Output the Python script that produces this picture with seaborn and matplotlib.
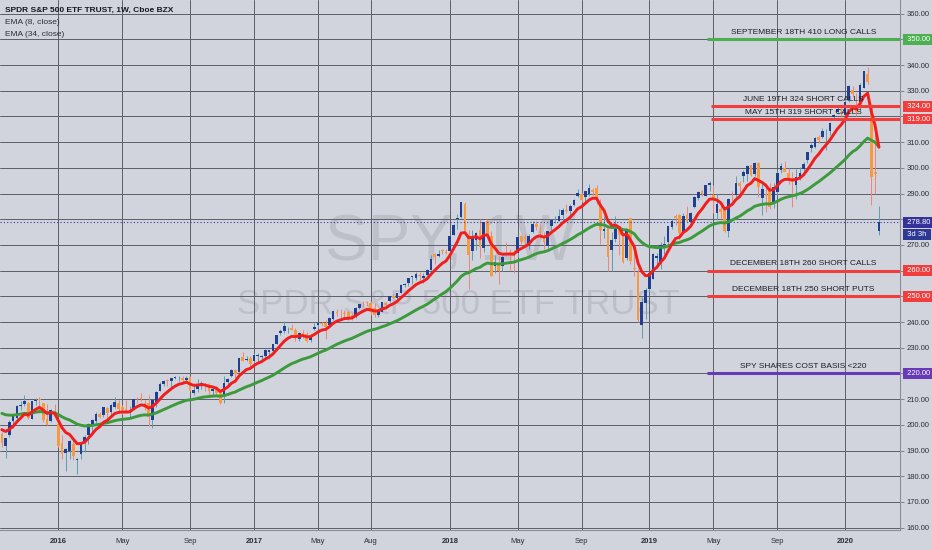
import numpy as np
import pandas as pd
import matplotlib
matplotlib.use("Agg")
import matplotlib.pyplot as plt
import matplotlib.dates as mdates
import matplotlib.transforms as mtrans
import seaborn as sns

# ---------------- data (weekly SPY, first bar = week of 2015-09-21) ----------------
first_week = "2015-09-21"

opens = [
    # 2015
    196.6, 191.8, 196.0, 201.4, 202.5, 207.3, 208.3, 208.7, 202.3, 209.4, 209.8, 208.7, 202.1, 201.4, 204.9,
    # 2016
    200.5, 193.0, 189.0, 190.0, 192.5, 186.4, 188.8, 193.9, 196.0, 199.4, 201.4, 204.1, 204.0, 206.5, 205.2, 207.0, 208.7,
    206.9, 206.2, 204.9, 205.9, 210.6, 210.4, 208.5, 208.5, 202.0, 209.0, 213.2, 216.0, 217.2, 217.2, 218.3, 218.5, 218.2, 217.4,
    218.7, 212.4, 214.1, 215.0, 216.0, 215.8, 213.0, 214.7, 212.9, 211.5, 216.6, 218.9, 221.4, 220.7, 226.4, 225.3, 226.0,
    # 2017
    225.0, 226.9, 226.3, 226.7, 228.2, 228.9, 231.6, 235.9, 236.6, 237.5, 237.6, 237.0, 233.3, 235.8, 235.4, 233.1, 237.2,
    238.7, 239.8, 239.5, 238.9, 241.3, 243.9, 242.9, 243.6, 243.9, 242.9, 241.9, 245.6, 247.0, 247.5,
    247.5, 245.6, 242.6, 244.1, 247.3, 248.0, 250.1, 249.3, 251.5, 254.6, 255.2, 257.5, 257.2, 258.3, 257.3, 258.3, 260.4,
    266.3, 265.6, 268.1, 267.1,
    # 2018
    267.8, 274.0, 280.1, 281.0, 285.9, 273.5, 267.5, 272.0, 275.9, 268.7, 279.2, 273.4, 262.0, 262.6, 262.0, 267.0, 267.3, 267.3,
    266.9, 273.4, 273.0, 269.5, 275.0, 278.3, 275.5, 273.4, 269.5, 277.3, 279.6, 279.5, 281.5, 283.6, 283.4, 285.5, 288.9,
    289.8, 288.7, 290.0, 291.3, 292.1, 286.0, 275.6, 277.0, 268.0, 272.4, 277.2, 273.0, 265.0, 280.3, 261.0, 259.4, 239.0, 247.6,
    # 2019
    252.7, 256.8, 264.8, 263.4, 270.1, 271.2, 277.0, 281.2, 281.6, 275.0, 281.5, 278.9, 284.7, 288.1, 291.0, 289.2, 293.5,
    289.3, 282.4, 284.1, 284.0, 275.3, 289.4, 289.5, 294.2, 296.7, 297.6, 301.1, 297.6, 301.9, 288.1, 289.9, 292.2, 286.1,
    290.6, 299.0, 300.0, 298.0, 295.9, 293.3, 295.9, 299.4, 302.9, 307.9, 308.0, 311.9, 312.0, 314.6, 314.4, 319.6, 321.6, 322.9,
    # 2020
    320.5, 326.4, 330.1, 323.0, 323.4, 331.2, 336.5, 323.1, 298.2, 275.6,
]

highs = [
    197.3, 195.0, 201.9, 203.3, 207.8, 209.4, 211.7, 208.9, 209.4, 210.4, 211.0, 208.7, 208.3, 206.0, 208.0,
    201.9, 195.9, 191.0, 194.0, 194.6, 187.0, 193.0, 196.0, 200.6, 202.2, 204.9, 204.9, 207.0, 206.9, 208.2, 210.9, 209.7,
    207.9, 209.5, 207.2, 210.2, 211.0, 212.5, 209.5, 211.8, 209.6, 213.0, 216.5, 217.4, 217.9, 218.2, 219.1, 219.2, 219.0, 218.9,
    219.2, 216.2, 218.0, 217.2, 216.4, 216.2, 214.4, 215.1, 213.2, 219.1, 218.3, 221.6, 221.8, 226.0, 228.3, 226.8, 226.7,
    227.8, 227.8, 227.1, 229.7, 229.1, 231.6, 235.1, 237.3, 240.3, 237.9, 239.4, 237.6, 236.0, 237.0, 236.0, 235.2, 239.5,
    239.8, 240.2, 240.7, 241.8, 244.3, 245.0, 245.0, 244.7, 244.4, 243.4, 245.7, 247.2, 248.0, 248.3,
    248.0, 247.3, 245.2, 247.9, 247.7, 250.2, 250.8, 251.3, 254.7, 255.1, 257.2, 257.9, 259.3, 259.3, 259.0, 260.5, 266.0,
    266.8, 268.0, 268.6, 268.6,
    274.0, 278.0, 282.0, 286.7, 286.7, 275.9, 275.7, 275.0, 280.0, 279.0, 280.0, 275.6, 266.0, 265.6, 266.0, 271.3, 268.6, 268.0,
    273.5, 273.9, 274.2, 274.2, 279.5, 279.5, 278.0, 275.0, 275.6, 280.0, 281.2, 284.0, 284.4, 286.0, 286.0, 287.7, 291.7,
    290.2, 290.9, 293.9, 292.2, 293.2, 287.9, 281.2, 277.4, 274.9, 281.3, 277.5, 273.4, 276.0, 280.4, 267.4, 260.7, 249.7, 253.1,
    259.2, 267.0, 266.7, 271.2, 273.4, 277.5, 280.2, 281.9, 281.9, 282.4, 285.2, 283.0, 289.2, 290.8, 291.4, 293.5, 295.0,
    293.2, 289.9, 286.5, 284.9, 288.1, 290.8, 297.0, 294.9, 299.0, 301.1, 301.2, 302.2, 302.2, 293.6, 294.1, 294.0, 294.1,
    298.8, 302.0, 302.6, 299.8, 298.5, 299.4, 300.2, 302.3, 306.2, 309.7, 312.0, 312.7, 315.5, 315.3, 317.9, 321.0, 323.8, 323.6,
    327.5, 332.1, 332.0, 329.0, 333.0, 337.7, 339.1, 324.0, 313.8, 285.3,
]

lows = [
    191.4, 187.0, 195.1, 198.6, 201.6, 205.6, 207.5, 202.4, 202.2, 207.7, 204.7, 201.3, 199.8, 201.0, 203.9,
    191.3, 186.9, 181.9, 186.9, 186.3, 181.0, 186.7, 189.5, 192.5, 196.7, 200.6, 202.5, 202.9, 202.9, 203.9, 206.6, 205.0,
    204.1, 204.6, 202.8, 205.8, 208.7, 209.4, 205.7, 199.5, 198.7, 207.1, 213.0, 215.0, 215.3, 214.3, 217.7, 217.0, 216.6, 216.9,
    213.0, 211.7, 212.9, 213.8, 213.1, 210.8, 211.8, 211.2, 208.1, 208.4, 215.4, 218.7, 218.3, 220.4, 224.7, 224.9, 222.7,
    223.9, 224.9, 224.9, 225.3, 225.8, 228.3, 231.5, 235.1, 235.8, 235.8, 236.8, 232.5, 232.6, 233.9, 232.4, 232.3, 236.9,
    237.7, 238.3, 233.5, 238.8, 240.8, 242.3, 241.6, 241.8, 240.8, 240.7, 241.6, 245.0, 245.8, 246.3,
    242.9, 242.1, 241.8, 243.8, 244.9, 247.9, 249.2, 248.1, 251.4, 253.8, 254.2, 254.7, 256.3, 256.5, 255.2, 258.1, 260.3,
    262.7, 265.4, 266.4, 266.6,
    267.4, 273.7, 276.2, 280.3, 275.3, 252.9, 264.2, 268.0, 264.8, 267.2, 273.9, 257.8, 259.0, 254.7, 259.8, 265.6, 260.2, 259.1,
    265.3, 270.5, 270.1, 268.5, 274.5, 276.0, 272.6, 268.5, 269.0, 276.0, 278.4, 279.2, 279.2, 282.5, 280.2, 285.0, 288.6,
    286.7, 286.7, 288.9, 289.6, 285.8, 270.4, 272.8, 259.9, 259.9, 271.0, 266.2, 263.0, 264.2, 262.6, 258.0, 239.9, 233.8, 241.1,
    251.7, 256.7, 261.2, 260.7, 266.5, 270.1, 276.1, 277.8, 272.4, 274.6, 279.1, 277.3, 284.5, 287.6, 288.9, 289.0, 291.0,
    282.5, 279.9, 280.6, 275.2, 273.0, 287.1, 288.6, 290.5, 294.3, 295.0, 296.7, 297.0, 288.7, 281.7, 283.0, 283.8, 284.3,
    289.3, 298.0, 298.6, 293.9, 284.8, 288.0, 295.2, 298.0, 301.9, 306.3, 307.7, 309.6, 311.8, 307.1, 312.8, 318.9, 320.8, 320.0,
    320.4, 325.5, 327.4, 320.3, 322.0, 331.0, 332.6, 285.5, 290.0, 274.0,
]

closes = [
    192.9, 195.0, 201.3, 203.3, 207.5, 207.9, 209.3, 202.5, 209.3, 209.6, 209.6, 201.9, 200.0, 205.7, 203.9,
    191.9, 188.8, 190.5, 193.7, 188.0, 186.6, 192.9, 195.1, 200.4, 202.0, 204.4, 203.1, 206.9, 204.5, 207.8, 209.0, 206.3,
    205.7, 204.8, 205.5, 210.2, 210.3, 210.1, 206.5, 203.2, 209.5, 212.6, 215.8, 217.2, 217.1, 218.2, 218.5, 218.54, 217.3, 218.4,
    213.3, 213.4, 216.0, 216.3, 215.0, 213.1, 214.0, 212.5, 208.6, 216.4, 218.0, 221.5, 219.7, 226.0, 225.0, 225.7, 223.5,
    227.2, 227.1, 226.7, 229.0, 229.3, 231.5, 235.1, 236.7, 238.4, 237.7, 237.0, 233.9, 235.7, 235.2, 232.5, 234.6, 238.1,
    239.7, 239.4, 238.0, 241.7, 244.2, 243.4, 242.6, 243.1, 241.8, 242.1, 245.6, 246.9, 246.9, 247.4,
    244.1, 242.7, 244.6, 247.8, 246.6, 250.1, 249.4, 251.2, 254.4, 255.0, 257.1, 257.7, 258.7, 258.1, 257.9, 260.4, 264.5,
    265.5, 266.5, 267.5, 266.9,
    273.4, 277.9, 280.4, 286.6, 275.5, 266.0, 273.1, 274.7, 269.1, 278.9, 274.2, 258.1, 263.2, 259.7, 265.2, 266.6, 266.6, 266.0,
    272.9, 271.3, 272.2, 273.6, 278.2, 277.1, 274.7, 271.3, 275.4, 279.6, 279.7, 281.4, 283.6, 283.2, 285.1, 287.5, 290.3,
    287.6, 290.9, 292.0, 290.7, 287.8, 276.0, 276.3, 265.3, 271.9, 277.8, 273.7, 263.3, 275.7, 263.6, 260.5, 240.7, 247.8, 252.4,
    259.0, 266.5, 265.8, 270.1, 270.5, 277.4, 279.5, 280.4, 274.5, 281.3, 279.3, 282.5, 288.6, 290.7, 290.0, 293.4, 294.0,
    288.1, 285.8, 282.8, 275.3, 287.7, 289.3, 294.0, 293.0, 298.5, 300.7, 297.2, 302.0, 292.6, 291.6, 288.9, 284.9, 292.5,
    298.1, 300.8, 298.3, 295.4, 294.4, 296.3, 298.0, 301.6, 306.1, 309.0, 311.8, 311.0, 314.3, 314.9, 317.3, 320.7, 322.9, 322.4,
    325.7, 332.0, 328.8, 321.7, 332.2, 337.6, 333.5, 296.3, 297.5, 278.8,
]

# prior weekly closes (Jan-Sep 2015), only used to seed the EMAs
ema_warmup_closes = [
    204.2, 201.6, 206.1, 199.5, 205.5, 209.8, 211.0, 210.7, 207.5, 205.8, 210.4, 205.7, 206.4, 210.0, 207.0, 211.0,
    210.8, 211.7, 212.4, 212.9, 211.1, 209.8, 209.1, 210.8, 210.5, 206.5, 204.9, 212.5, 207.5, 210.5, 207.9, 209.4,
    197.6, 199.3, 192.6, 196.0, 195.5,
]

ema_fast_span = 8
ema_slow_span = 34

level_prices = [350.0, 324.0, 319.0, 260.0, 250.0, 220.0]
level_texts = ["SEPTEMBER 18TH 410 LONG CALLS", "JUNE 19TH 324 SHORT CALLS", "MAY 15TH 319 SHORT CALLS",
               "DECEMBER 18TH 260 SHORT CALLS", "DECEMBER 18TH 250 SHORT PUTS", "SPY SHARES COST BASIS <220"]
level_colors = ["#4caf50", "#f23d3d", "#f23d3d", "#f23d3d", "#f23d3d", "#673ab7"]
level_start_weeks = [172.3, 173.4, 173.4, 172.3, 172.3, 172.3]   # weeks after 2016-01-04

last_price = 278.80
countdown = "3d 3h"

x_tick_dates = ["2016-01-04", "2016-05-02", "2016-09-05", "2017-01-02", "2017-05-01", "2017-08-07",
                "2018-01-01", "2018-05-07", "2018-09-03", "2019-01-07", "2019-05-06", "2019-09-02", "2020-01-06"]
x_tick_labels = ["2016", "May", "Sep", "2017", "May", "Aug", "2018", "May", "Sep", "2019", "May", "Sep", "2020"]
y_ticks = list(range(160, 361, 10))

# ---------------- style ----------------
sns.set_theme(style="white")
plt.rcParams["font.family"] = ["Liberation Sans", "DejaVu Sans"]

BG = "#d1d4dc"
GRID = "#5c5f68"
UP_BODY, UP_WICK = "#1f3f93", "#5a9fb0"
DN_BODY, DN_WICK = "#f79a3e", "#f08474"

W, H = 932, 550
fig = plt.figure(figsize=(W / 100, H / 100), dpi=100, facecolor=BG)
ax = fig.add_axes([0, 20 / H, 900 / W, 530 / H])
ax.set_facecolor(BG)

weeks = pd.date_range(first_week, periods=len(closes), freq="7D")
x = mdates.date2num(weeks)
o, h, l, c = (np.array(v, dtype=float) for v in (opens, highs, lows, closes))
up = c >= o

base = mdates.date2num(pd.Timestamp("2016-01-04"))
def wk(n):
    return base + n * 7.0

# EMAs
full = pd.Series(ema_warmup_closes + closes, dtype=float)
n0 = len(ema_warmup_closes)
ema_fast = full.ewm(span=ema_fast_span, adjust=False).mean().iloc[n0:].to_numpy()
ema_slow = full.ewm(span=ema_slow_span, adjust=False).mean().iloc[n0:].to_numpy()

# watermark
wm_family = ["Liberation Sans Narrow", "Liberation Sans", "DejaVu Sans"]
ax.text(0.5, 0.541, "SPY, 1W", transform=ax.transAxes, ha="center", va="center",
        fontsize=46, color="#8f929b", alpha=0.3, zorder=0.5, family=wm_family)
ax.text(0.509, 0.425, "SPDR S&P 500 ETF TRUST", transform=ax.transAxes, ha="center", va="center",
        fontsize=25, color="#8f929b", alpha=0.3, zorder=0.5, family=wm_family)

# candles
ax.vlines(x, l, h, colors=np.where(up, UP_WICK, DN_WICK), lw=0.7, zorder=2)
ax.bar(x, np.maximum(np.abs(c - o), 0.3), bottom=np.minimum(o, c), width=5.0,
       color=np.where(up, UP_BODY, DN_BODY), lw=0, zorder=2.1)

# EMAs via seaborn
sns.lineplot(x=x, y=ema_slow, color="#3c9a3c", lw=2.1, ax=ax, zorder=4)
sns.lineplot(x=x, y=ema_fast, color="#f21d1d", lw=2.1, ax=ax, zorder=4.1)

# axes ranges
xmin = wk(-15.49)
xmax = wk(223.6)
ax.set_xlim(xmin, xmax)
ax.set_ylim(159.1, 365.3)

# last price dotted line
ax.axhline(last_price, color="#3535a8", lw=0.8, ls=(0, (1, 2)), zorder=3)

# option levels
for p, t, col, s in zip(level_prices, level_texts, level_colors, level_start_weeks):
    ax.hlines(p, wk(s), xmax, color=col, lw=2.2, zorder=5)
    ax.text(wk(198.0), p + 2.7, t, ha="center", va="center", fontsize=6, color="#1b1e28", zorder=6)

# price boxes on the scale (label, price, colour)
countdown_y = last_price - 4.8
boxes = [(f"{p:.2f}", p, col) for p, col in zip(level_prices, level_colors)]
boxes += [(f"{last_price:.2f}", last_price, "#35309a"), (countdown, countdown_y, "#2d3894")]

# grid + ticks (labels hidden where a coloured price box covers them, as on the reference)
def hidden(v):
    return any(abs(v - b[1]) < 3.5 for b in boxes)

ax.set_xticks(mdates.date2num(pd.to_datetime(x_tick_dates)))
ax.set_xticklabels(x_tick_labels)
ax.set_yticks(y_ticks)
ax.set_yticklabels(["" if hidden(v) else f"{v:.2f}" for v in y_ticks])
ax.yaxis.tick_right()
ax.grid(True, color=GRID, lw=0.7, zorder=1)
ax.set_axisbelow(True)
ax.tick_params(axis="x", length=0, pad=6, labelsize=5.5, labelcolor="#2a2e39")
ax.tick_params(axis="y", length=3, width=0.6, color="#777", pad=2, labelsize=5.5, labelcolor="#2a2e39")
for lab in ax.get_xticklabels():
    if lab.get_text().isdigit():
        lab.set_fontweight("bold")
for side in ("top", "left"):
    ax.spines[side].set_visible(False)
for side in ("right", "bottom"):
    ax.spines[side].set_color("#8a8d96")
    ax.spines[side].set_linewidth(0.8)

tr = mtrans.blended_transform_factory(ax.transAxes, ax.transData)
for text, yv, col in boxes:
    ax.text(1.006, yv, " " + text + " ", transform=tr, ha="left", va="center", fontsize=5.5, color="white",
            bbox=dict(boxstyle="square,pad=0.26", fc=col, ec="none"), zorder=10, clip_on=False)

# header legend
fig.text(5 / W, 1 - 10 / H, "SPDR S&P 500 ETF TRUST, 1W, Cboe BZX", fontsize=6, fontweight="bold",
         color="#131722", va="center")
fig.text(5 / W, 1 - 23 / H, "EMA (8, close)", fontsize=6, color="#2a2e39", va="center")
fig.text(5 / W, 1 - 35 / H, "EMA (34, close)", fontsize=6, color="#2a2e39", va="center")

fig.savefig("out.png", dpi=100, facecolor=BG)
